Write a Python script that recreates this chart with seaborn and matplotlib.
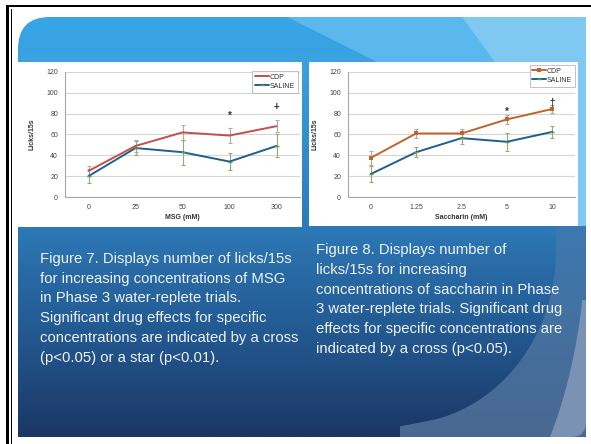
import numpy as np
import matplotlib
matplotlib.use("Agg")
import matplotlib.pyplot as plt
import seaborn as sns
from matplotlib.path import Path
from matplotlib.patches import PathPatch, Rectangle, Polygon
from matplotlib.colors import LinearSegmentedColormap

# Figure 7 - MSG
msg_labels = ["0", "25", "50", "100", "300"]
msg_cdp = [25, 49, 62, 59, 68]
msg_cdp_err = [4.5, 6, 7, 7, 6]
msg_saline = [20, 47, 43, 34, 49]
msg_saline_err = [6.5, 7, 12, 8, 11]
msg_sig_idx = [3, 4]
msg_sig_sym = ["*", "+"]
msg_sig_y = [78, 86]

# Figure 8 - saccharin
sac_labels = ["0", "1.25", "2.5", "5", "10"]
sac_cdp = [37.5, 61, 61, 74.5, 84.5]
sac_cdp_err = [6.5, 4.3, 4.3, 4.2, 3.5]
sac_saline = [22, 43, 56.5, 53, 62.5]
sac_saline_err = [7.4, 5, 6, 8.4, 6]
sac_sig_idx = [3, 4]
sac_sig_sym = ["*", "\u2020"]
sac_sig_y = [81.5, 90]

cap7 = ["Figure 7. Displays number of licks/15s",
        "for increasing concentrations of MSG",
        "in Phase 3 water-replete trials.",
        "Significant drug effects for specific",
        "concentrations are indicated by a cross",
        "(p<0.05) or a star (p<0.01)."]
cap8 = ["Figure 8. Displays number of",
        "licks/15s for increasing",
        "concentrations of saccharin in Phase",
        "3 water-replete trials. Significant drug",
        "effects for specific concentrations are",
        "indicated by a cross (p<0.05)."]

sns.set_style("white")
plt.rcParams['font.family'] = ['Liberation Sans', 'DejaVu Sans']

W, H = 591, 444
fig = plt.figure(figsize=(W / 100, H / 100), dpi=100)
fig.patch.set_facecolor("white")

# ---- slide background ----
bg = fig.add_axes([0, 0, 1, 1])
bg.set_xlim(0, W)
bg.set_ylim(H, 0)
bg.axis("off")

L, T, Rt, B = 18, 17, 586, 437
R1, R2 = 32, 15
verts = [(L + R1, T), (Rt, T), (Rt, B - R2), (Rt, B), (Rt - R2, B), (L, B),
         (L, T + R1), (L, T), (L + R1, T), (L + R1, T)]
codes = [Path.MOVETO, Path.LINETO, Path.LINETO, Path.CURVE3, Path.CURVE3,
         Path.LINETO, Path.LINETO, Path.CURVE3, Path.CURVE3, Path.CLOSEPOLY]
shape = PathPatch(Path(verts, codes), facecolor="none", edgecolor="none")
bg.add_patch(shape)

stops = [(17, "#36a5e6"), (62, "#3aa2df"), (227, "#2d7ab8"), (260, "#2a6eaa"),
         (330, "#235a92"), (437, "#1b3766")]
cmap = LinearSegmentedColormap.from_list(
    "slide", [((y - 17) / 420, c) for y, c in stops])
grad = np.linspace(0, 1, 400).reshape(-1, 1)
im = bg.imshow(grad, cmap=cmap, extent=(L, Rt, B, T), aspect="auto", zorder=1)
im.set_clip_path(shape)

p1 = Polygon([(287, T), (Rt, T), (Rt, 62), (377, 62)], closed=True,
             facecolor="#5bb8ee", edgecolor="none", zorder=2)
p2 = Polygon([(462, T), (Rt, T), (Rt, 228), (560, 228), (495, 62)], closed=True,
             facecolor="#7ec8f1", edgecolor="none", zorder=2)
for p in [p1, p2]:
    bg.add_patch(p)
    p.set_clip_path(shape)

# lighter bands at the lower right
yy = np.linspace(226, B, 60)
cx, cy, a, b = 400, 250, 156, 174
dy = np.clip(yy - cy, 0, None)
xe = cx + a * np.sqrt(np.clip(1 - (dy / b) ** 2, 0, 1))
band1 = Polygon(list(zip(xe, yy)) + [(Rt, B), (Rt, 226)], closed=True,
                facecolor="none", edgecolor="none", zorder=2)
bg.add_patch(band1)
band_cmap = LinearSegmentedColormap.from_list("band", ["#3c79b1", "#44709f", "#4a6892"])
im2 = bg.imshow(grad, cmap=band_cmap, extent=(380, Rt, B, 226), aspect="auto", zorder=2)
im2.set_clip_path(band1)

yy2 = np.linspace(300, B, 60)
dy2 = yy2 - 230
xe2 = 400 + 186 * np.sqrt(np.clip(1 - (dy2 / 350) ** 2, 0, 1))
band2 = Polygon(list(zip(xe2, yy2)) + [(Rt, B), (Rt, 300)], closed=True,
                facecolor="#7a92b3", edgecolor="none", zorder=3)
bg.add_patch(band2)
band2.set_clip_path(shape)

# chart panels
bg.add_patch(Rectangle((18, 62), 284, 165, facecolor="white", edgecolor="none", zorder=4))
bg.add_patch(Rectangle((309, 62), 269, 164, facecolor="white", edgecolor="none", zorder=4))

# black frame
bg.add_patch(Rectangle((6, 5), W - 6, 2.5, facecolor="black", edgecolor="none", zorder=5))
bg.add_patch(Rectangle((6, 5), 3, H - 5, facecolor="black", edgecolor="none", zorder=5))
bg.add_patch(Rectangle((10.5, 9), 1, H - 9, facecolor="black", edgecolor="none", zorder=5))

# captions
for i, line in enumerate(cap7):
    bg.text(40, 259 + i * 19.7, line, color="#eef2f7", fontsize=10.7,
            ha="left", va="center", zorder=6)
for i, line in enumerate(cap8):
    bg.text(316, 250 + i * 19.8, line, color="#eef2f7", fontsize=10.7,
            ha="left", va="center", zorder=6)


def draw_chart(rect, labels, cdp, cdp_err, sal, sal_err, sig_idx, sig_sym, sig_y,
               cdp_color, cdp_marker, xlabel, leg_anchor):
    ax = fig.add_axes(rect)
    ax.set_facecolor("none")
    x = np.arange(len(labels))
    ax.errorbar(x, cdp, yerr=cdp_err, fmt="none", ecolor="#b5a89c", elinewidth=0.8,
                capsize=1.5, capthick=0.8, zorder=2)
    ax.errorbar(x, sal, yerr=sal_err, fmt="none", ecolor="#95a878", elinewidth=0.8,
                capsize=1.5, capthick=0.8, zorder=2)
    sns.lineplot(x=x, y=cdp, ax=ax, color=cdp_color, lw=1.4, marker=cdp_marker,
                 markersize=3, markeredgewidth=0, label="CDP", zorder=4)
    sns.lineplot(x=x, y=sal, ax=ax, color="#215f8e", lw=1.4, marker="_",
                 markersize=3.5, markeredgewidth=1, markeredgecolor="#6f9a3c",
                 label="SALINE", zorder=3)
    for i, s, y in zip(sig_idx, sig_sym, sig_y):
        ax.text(x[i], y, s, ha="center", va="center", fontsize=7, color="#333333",
                fontweight="bold")
    ax.set_xlim(-0.5, len(labels) - 0.5)
    ax.set_ylim(0, 120)
    ax.set_yticks(range(0, 121, 20))
    ax.yaxis.grid(True, color="#d6d6d6", lw=0.8)
    ax.set_axisbelow(True)
    ax.set_xticks(x)
    ax.set_xticklabels(labels)
    ax.set_xticks(np.arange(-0.5, len(labels), 1), minor=True)
    ax.tick_params(axis="x", which="major", length=0, labelsize=5, colors="#444444", pad=5)
    ax.tick_params(axis="x", which="minor", length=3, color="#a6a6a6", width=0.7)
    ax.tick_params(axis="y", length=3, color="#a6a6a6", width=0.7, labelsize=5,
                   labelcolor="#444444", pad=2)
    for sp in ["top", "right"]:
        ax.spines[sp].set_visible(False)
    for sp in ["left", "bottom"]:
        ax.spines[sp].set_color("#a6a6a6")
        ax.spines[sp].set_linewidth(0.8)
    ax.set_xlabel(xlabel, fontsize=5, fontweight="bold", color="#333333", labelpad=2)
    ax.set_ylabel("Licks/15s", fontsize=5, fontweight="bold", color="#333333", labelpad=8)
    leg = ax.legend(loc="upper right", bbox_to_anchor=leg_anchor, fontsize=5,
                    frameon=True, fancybox=False, borderaxespad=0, borderpad=0.4,
                    labelspacing=0.3, handlelength=2.0, handletextpad=0.1)
    leg.get_frame().set_edgecolor("#a6a6a6")
    leg.get_frame().set_linewidth(0.6)
    for t in leg.get_texts():
        t.set_color("#333333")
    return ax


draw_chart([65 / W, 1 - 197 / H, 235 / W, 125 / H], msg_labels, msg_cdp, msg_cdp_err,
           msg_saline, msg_saline_err, msg_sig_idx, msg_sig_sym, msg_sig_y,
           "#c0504d", None, "MSG (mM)", (0.991, 1.008))
draw_chart([348 / W, 1 - 197 / H, 227 / W, 125 / H], sac_labels, sac_cdp, sac_cdp_err,
           sac_saline, sac_saline_err, sac_sig_idx, sac_sig_sym, sac_sig_y,
           "#c0652a", "s", "Saccharin (mM)", (1.0, 1.056))

fig.savefig("out.png", dpi=100)
